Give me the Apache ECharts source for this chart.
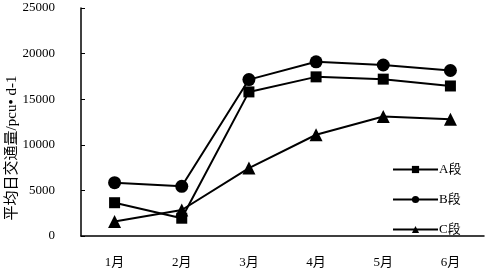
<!DOCTYPE html>
<html><head><meta charset="utf-8">
<script src="https://cdn.jsdelivr.net/npm/echarts@6/dist/echarts.min.js"></script>
<style>html,body{margin:0;padding:0;background:#fff}#c{width:491px;height:275px}</style>
</head><body><div id="c"></div>
<script>
const categories = ['1月','2月','3月','4月','5月','6月'];
const seriesA = [3650, 1950, 15800, 17450, 17200, 16450];
const seriesB = [5850, 5450, 17150, 19100, 18750, 18150];
const seriesC = [1600, 2850, 7450, 11100, 13100, 12800];
const yTicks = [0, 5000, 10000, 15000, 20000, 25000];
const yName = '平均日交通量/pcu• d-1';

const serif = '"Liberation Serif","Noto Sans CJK SC",serif';
const chart = echarts.init(document.getElementById('c'));
const mk = (name, data, symbol, size) => ({
  name, type: 'line', data, symbol, symbolSize: size,
  lineStyle: { color: '#000', width: 2 },
  itemStyle: { color: '#000' },
  animation: false
});
chart.setOption({
  animation: false,
  grid: { left: 81, right: 7, top: 8, bottom: 39 },
  legend: {
    orient: 'vertical', left: 387, top: 158,
    itemWidth: 45, itemHeight: 9, itemGap: 17,
    textStyle: { fontFamily: serif, fontSize: 13, color: '#000', padding: [0,0,0,-4] },
    data: ['A段','B段','C段']
  },
  xAxis: {
    type: 'category', data: categories,
    axisLine: { lineStyle: { color: '#000', width: 1.5 } },
    axisTick: { alignWithLabel: true, length: 3, lineStyle: { color: '#000' } },
    axisLabel: { color: '#000', fontFamily: serif, fontSize: 13, margin: 20 }
  },
  yAxis: {
    type: 'value', min: yTicks[0], max: yTicks[yTicks.length-1], interval: yTicks[1]-yTicks[0],
    splitLine: { show: false },
    axisLine: { show: true, lineStyle: { color: '#000', width: 1.5 } },
    axisTick: { show: true, inside: true, length: 4, lineStyle: { color: '#000' } },
    axisLabel: { color: '#000', fontFamily: serif, fontSize: 13, margin: 26, formatter: v => String(v) }
  },
  graphic: [{
    type: 'text', x: 12, y: 148, rotation: Math.PI/2,
    style: { text: yName, fontFamily: serif, fontSize: 15, fill: '#000', align: 'center', verticalAlign: 'middle' }
  }],
  series: [
    mk('A段', seriesA, 'rect', 11),
    mk('B段', seriesB, 'circle', 13),
    mk('C段', seriesC, 'triangle', 13)
  ]
});
</script></body></html>
